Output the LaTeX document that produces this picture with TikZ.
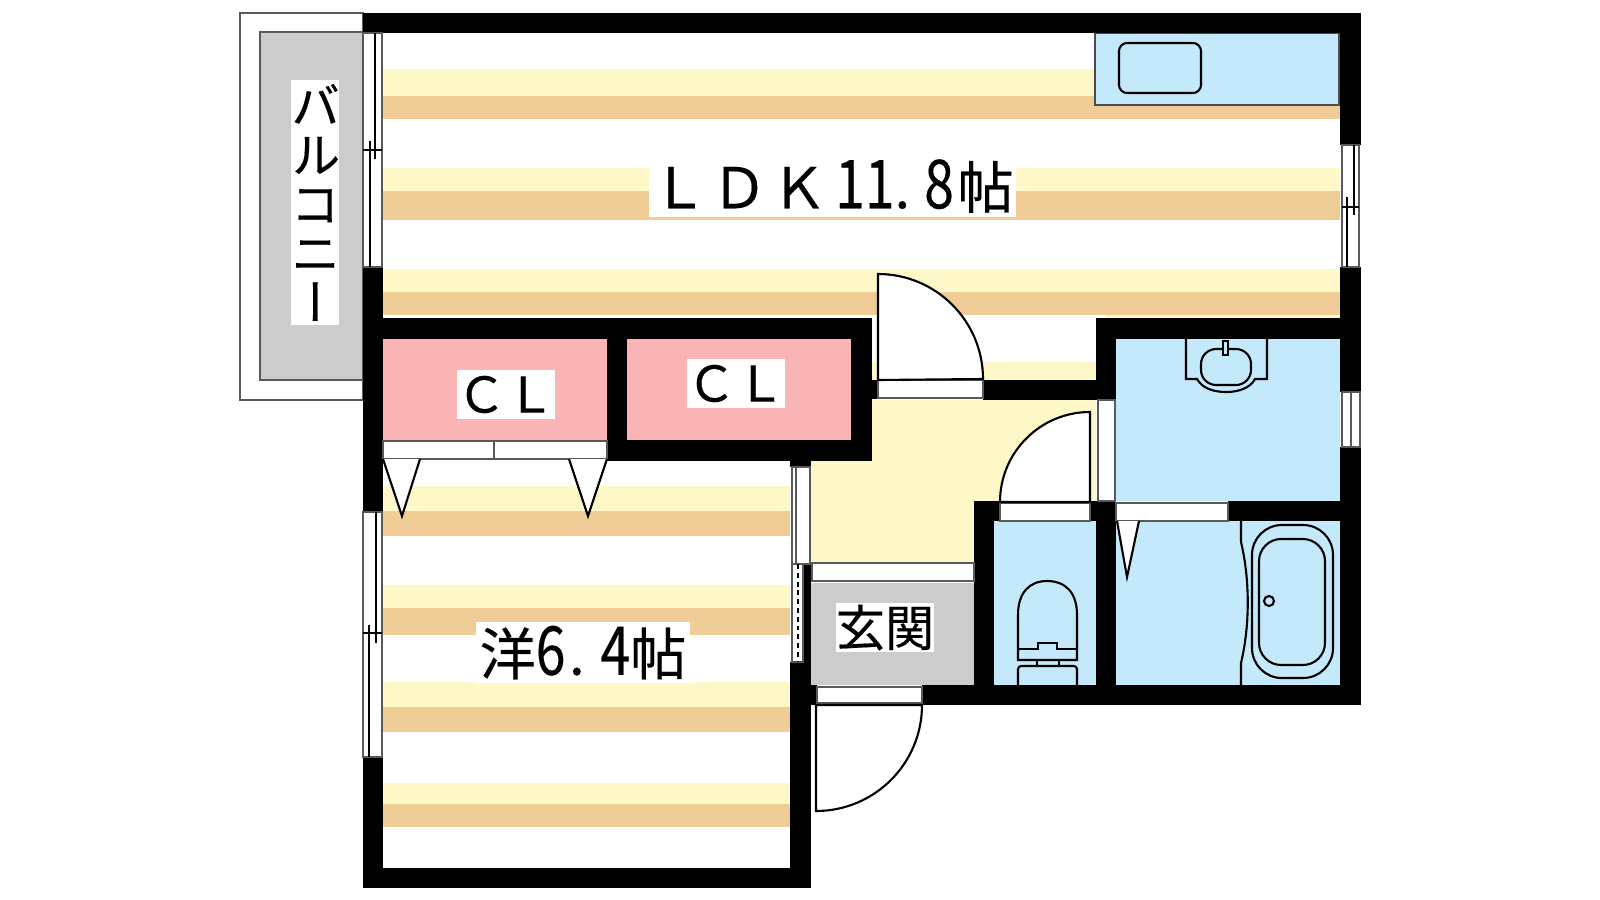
\documentclass[tikz,border=0pt]{standalone}
\usepackage{fontspec}
\setmainfont[FakeBold=0.35]{Noto Sans CJK JP}
\newfontfamily\vertfont[FakeBold=0.35,RawFeature={+vert}]{Noto Sans CJK JP}
\newcommand{\tallnum}[1]{\scalebox{0.95}[1.2]{#1}}
\definecolor{floorcream}{HTML}{FEF8C8}
\definecolor{floortan}{HTML}{F0CC96}
\definecolor{closetpink}{HTML}{FAB4B6}
\definecolor{wetblue}{HTML}{C4E9FA}
\definecolor{porchgray}{HTML}{CCCCCC}
\begin{document}
\begin{tikzpicture}[
  x=0.01cm, y=-0.01cm,
  wallpart/.style={fill=black},
  fixture/.style={draw=black,line width=0.6pt},
  stripbox/.style={draw=black!65,fill=white,line width=0.55pt},
  doorleaf/.style={draw=black,fill=white,line width=0.6pt},
  labelbox/.style={fill=white,inner sep=0pt,font=\fontsize{14}{14}\selectfont},
  biglabel/.style={labelbox,font=\fontsize{16}{16}\selectfont}
]
\useasboundingbox (0,0) rectangle (1600,900);

% balcony
\draw[stripbox] (240,13) rectangle (363,400);
\draw[stripbox,fill=porchgray] (260,32) rectangle (363,380);

% floor stripes
\foreach \ya/\yb/\yc in {69/96/119,168/191/220,269/292/315} {
  \fill[floorcream] (383,\ya) rectangle (1340,\yb);
  \fill[floortan] (383,\yb) rectangle (1340,\yc);
}
\foreach \ya/\yb/\yc in {486/511/536,585/608/635,682/707/732,783/804/827} {
  \fill[floorcream] (383,\ya) rectangle (790,\yb);
  \fill[floortan] (383,\yb) rectangle (790,\yc);
}
\fill[floorcream] (1106,315) rectangle (1340,318);
\fill[floorcream] (872,362) rectangle (1096,380);
\fill[floorcream] (811,400) rectangle (1096,563);

% rooms
\fill[closetpink] (383,339) rectangle (607,440);
\fill[closetpink] (627,339) rectangle (851,440);
\fill[wetblue] (1116,339) rectangle (1340,501);
\fill[wetblue] (994,521) rectangle (1096,685);
\fill[wetblue] (1116,521) rectangle (1340,685);
\fill[porchgray] (811,583) rectangle (974,685);
\draw[stripbox,draw=black!70,fill=wetblue] (1095,33) rectangle (1339,105);
\draw[fixture,rounded corners=2.3pt] (1119,43) rectangle (1201,93);

% walls
\foreach \xa/\ya/\xb/\yb in {363/13/1361/33,1340/13/1361/145,1340/267/1361/392,1340/447/1361/705,
  363/267/383/512,363/757/383/888,363/868/811/888,363/318/872/339,607/339/627/461,851/339/872/461,
  607/440/872/461,790/461/811/467,790/662/811/888,803/564/811/662,811/685/817/705,922/685/1361/705,
  872/380/878/399,983/380/1116/400,1096/318/1116/400,1096/318/1340/339,974/501/1000/521,1090/501/1116/521,
  1228/501/1340/521,974/501/994/705,1096/501/1116/705}
  \fill[wallpart] (\xa,\ya) rectangle (\xb,\yb);

% strips in door and window openings
\draw[stripbox] (383,441) rectangle (607,459);
\draw[stripbox] (494,441) -- (494,459);
\draw[stripbox] (878,380) rectangle (983,398);
\draw[stripbox] (1098,400) rectangle (1115,501);
\draw[stripbox] (1000,503) rectangle (1090,521);
\draw[stripbox] (1116,503) rectangle (1228,521);
\draw[stripbox] (812,563) rectangle (974,581);
\draw[stripbox] (817,687) rectangle (922,703);

% windows
\draw[stripbox] (363,33) rectangle (382,267);
\draw[fixture] (363,150) -- (382,150) (375,33) -- (375,159) (370,141) -- (370,267);
\draw[stripbox] (363,512) rectangle (382,757);
\draw[fixture] (363,633) -- (382,633) (376,512) -- (376,643) (369,625) -- (369,757);
\draw[stripbox] (1342,145) rectangle (1359,267);
\draw[fixture] (1342,207) -- (1359,207) (1354,145) -- (1354,215) (1347,197) -- (1347,267);
\draw[stripbox] (1342,392) rectangle (1360,447);
\draw[stripbox] (1351,392) -- (1351,447);
\draw[stripbox] (792,467) rectangle (810,564);
\draw[stripbox] (796,467) -- (796,564);
\draw[stripbox] (792,564) rectangle (803,662);
\draw[fixture,dash pattern=on 1.4pt off 1.1pt,line width=0.7pt] (798,564) -- (798,662);

% doors
\draw[doorleaf] (878,380) -- (878,274) arc[start angle=-90,end angle=0,radius=105] -- cycle;
\draw[doorleaf] (1090,502) -- (1090,412) arc[start angle=-90,end angle=-180,radius=90] -- cycle;
\draw[doorleaf] (816,705) -- (922,705) arc[start angle=0,end angle=90,radius=106] -- cycle;
\draw[doorleaf] (383,459) -- (402,516) -- (420,459);
\draw[doorleaf] (569,459) -- (588,516) -- (607,459);
\draw[doorleaf] (1117,521) -- (1127,577) -- (1139,521);

% washbasin
\draw[fixture] (1186,339) -- (1186,379) -- (1197,379)
  .. controls (1202,388) and (1213,392) .. (1226,392)
  .. controls (1239,392) and (1250,388) .. (1255,379) -- (1267,379) -- (1267,339);
\draw[fixture,rounded corners=4.3pt] (1201,349) rectangle (1251,385);
\draw[fixture,fill=wetblue] (1223,341) rectangle (1228,355);

% toilet
\draw[fixture] (1018,649) -- (1018,615) .. controls (1018,592) and (1030,581) .. (1047,581)
  .. controls (1065,581) and (1077,592) .. (1077,615) -- (1077,660) -- (1018,660) -- cycle;
\draw[fixture] (1018,649) -- (1038,649) -- (1038,643) -- (1057,643) -- (1057,649) -- (1077,649);
\draw[fixture] (1037,660) rectangle (1059,666);
\draw[fixture,rounded corners=0.9pt] (1018,685) -- (1018,666) -- (1077,666) -- (1077,685);

% bath
\draw[fixture] (1241,521) -- (1241,542) .. controls (1250,580) and (1250,625) .. (1241,663) -- (1241,685);
\draw[fixture,rounded corners=8.5pt] (1252,525) rectangle (1333,678);
\draw[fixture,rounded corners=6.3pt] (1259,539) rectangle (1325,665);
\draw[fixture] (1269,601) circle (5);

% labels
\node[biglabel,minimum width=3.67cm,minimum height=0.62cm] (ldk) at (832.5,186)
  {Ｌ\kern1pt Ｄ\kern1pt Ｋ\kern2.3pt\tallnum{1}\tallnum{1}.\kern4pt\tallnum{8}\kern1pt 帖};
\node[biglabel,minimum width=2.14cm,minimum height=0.61cm] (bedroom) at (583,652.5)
  {洋\tallnum{6}\kern1pt.\kern4.5pt\tallnum{4}帖};
\node[labelbox,minimum width=0.98cm,minimum height=0.49cm] (closetleft) at (506,394.5) {ＣＬ};
\node[labelbox,minimum width=0.98cm,minimum height=0.49cm] (closetright) at (736,383.5) {ＣＬ};
\node[labelbox,minimum width=0.98cm,minimum height=0.49cm] (porch) at (885,627.5) {玄関};
\node[labelbox,text width=0.48cm,minimum height=2.45cm,align=center,font=\fontsize{14}{14}\selectfont\vertfont] (balcony) at (315,202.5) {バ\\ル\\コ\\ニ\\ー};
\end{tikzpicture}
\end{document}
